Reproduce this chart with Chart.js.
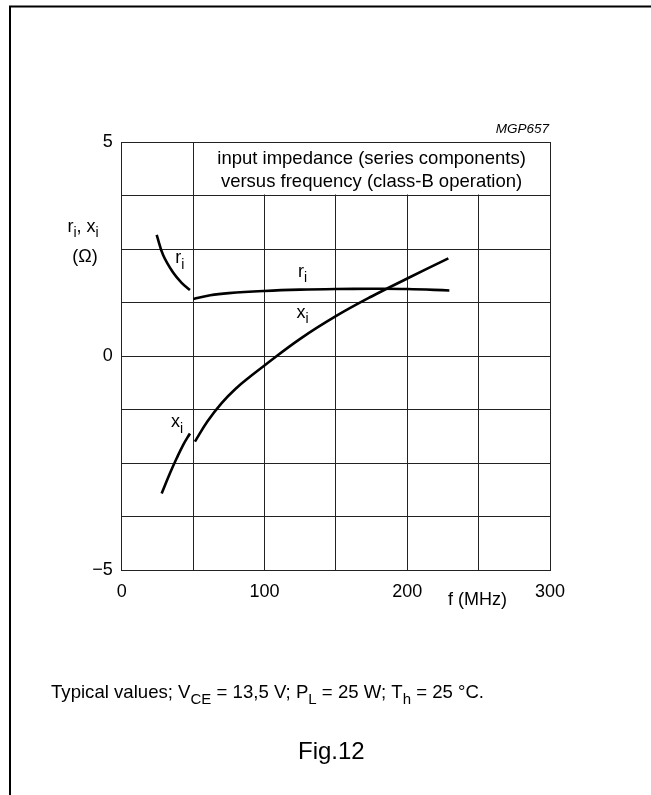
<!DOCTYPE html>
<html>
<head>
<meta charset="utf-8">
<script src="https://cdn.jsdelivr.net/npm/chart.js@4.4.1/dist/chart.umd.min.js"></script>
<style>
  html, body { margin: 0; padding: 0; background: #fff; }
  canvas { display: block; }
</style>
</head>
<body>
<canvas id="impedance" width="651" height="795"></canvas>
<script>
// tick labels and grid steps
const xTickLabels = [0, 100, 200, 300];
const yTickLabels = [-5, 0, 5];
const xGridStep = 50;
const yGridStep = 1.25;

// r_i, low frequency branch
const riLowF = [24.5, 29, 36, 42, 47.8];
const riLowV = [2.83, 2.36, 1.95, 1.71, 1.54];
// r_i, main branch
const riHighF = [50.2, 62, 75, 100, 125, 150, 175, 200, 229.5];
const riHighV = [1.33, 1.42, 1.47, 1.52, 1.55, 1.565, 1.57, 1.565, 1.53];
// x_i, low frequency branch
const xiLowF = [28, 33.8, 38.5, 43, 47.8];
const xiLowV = [-3.21, -2.74, -2.39, -2.08, -1.81];
// x_i, main branch
const xiHighF = [51.3, 60, 70, 80, 90, 100, 125, 150, 175, 200, 228.8];
const xiHighV = [-2.0, -1.53, -1.10, -0.76, -0.48, -0.22, 0.40, 0.93, 1.39, 1.81, 2.28];

const FONT = '"Liberation Sans", Arial, Helvetica, sans-serif';
const INK = '#000';
const GRID = '#222';

function pts(fs, vs) {
    return fs.map((f, i) => ({ x: f, y: vs[i] }));
}

// text with subscripts: parts = [[text, isSub], ...]
function drawRich(ctx, parts, x, y, size, align) {
    const subSize = Math.round(size * 0.8);
    let w = 0;
    parts.forEach(p => {
        ctx.font = (p[1] ? subSize : size) + 'px ' + FONT;
        w += ctx.measureText(p[0]).width;
    });
    let cx = align === 'center' ? x - w / 2 : (align === 'right' ? x - w : x);
    ctx.textAlign = 'left';
    ctx.textBaseline = 'alphabetic';
    parts.forEach(p => {
        ctx.font = (p[1] ? subSize : size) + 'px ' + FONT;
        ctx.fillText(p[0], cx, p[1] ? y + size * 0.3 : y);
        cx += ctx.measureText(p[0]).width;
    });
}

const overlay = {
    id: 'overlay',
    beforeDatasetsDraw(chart) {
        // white box for the title in the top row
        const { ctx, scales: { x, y } } = chart;
        ctx.save();
        ctx.fillStyle = '#fff';
        const l = x.getPixelForValue(50) + 1, r = x.getPixelForValue(300) - 1;
        const t = y.getPixelForValue(5) + 1, b = y.getPixelForValue(5 - yGridStep) - 1;
        ctx.fillRect(l, t, r - l, b - t);
        ctx.restore();
    },
    afterDraw(chart) {
        const { ctx, scales: { x, y } } = chart;
        ctx.save();
        ctx.fillStyle = INK;

        // frame
        ctx.strokeStyle = INK;
        ctx.lineWidth = 2;
        ctx.beginPath();
        ctx.moveTo(10, 795);
        ctx.lineTo(10, 6.5);
        ctx.lineTo(651, 6.5);
        ctx.stroke();

        // title box text
        const cx = (x.getPixelForValue(50) + x.getPixelForValue(300)) / 2;
        ctx.font = '18.5px ' + FONT;
        ctx.textAlign = 'center';
        ctx.textBaseline = 'alphabetic';
        ctx.fillText('input impedance (series components)', cx, 164);
        ctx.fillText('versus frequency (class-B operation)', cx, 187);

        ctx.font = 'italic 13.5px ' + FONT;
        ctx.textAlign = 'right';
        ctx.fillText('MGP657', 549, 133);

        // axis titles
        drawRich(ctx, [['r', 0], ['i', 1], [', x', 0], ['i', 1]], 83, 232, 18, 'center');
        ctx.font = '18px ' + FONT;
        ctx.textAlign = 'center';
        ctx.fillText('(\u03A9)', 85, 262);
        ctx.textAlign = 'left';
        ctx.fillText('f (MHz)', 448, 605);

        // curve labels
        drawRich(ctx, [['r', 0], ['i', 1]], x.getPixelForValue(37.5), y.getPixelForValue(2.17), 18, 'left');
        drawRich(ctx, [['r', 0], ['i', 1]], x.getPixelForValue(123.5), y.getPixelForValue(1.85), 18, 'left');
        drawRich(ctx, [['x', 0], ['i', 1]], x.getPixelForValue(122.5), y.getPixelForValue(0.89), 18, 'left');
        drawRich(ctx, [['x', 0], ['i', 1]], x.getPixelForValue(34.5), y.getPixelForValue(-1.67), 18, 'left');

        // footer
        drawRich(ctx, [
            ['Typical values; V', 0], ['CE', 1], [' = 13,5 V; P', 0], ['L', 1],
            [' = 25 W; T', 0], ['h', 1], [' = 25 \u00B0C.', 0]
        ], 51, 698, 18.6, 'left');
        ctx.font = '24px ' + FONT;
        ctx.textAlign = 'left';
        ctx.fillText('Fig.12', 298, 759);
        ctx.restore();
    }
};

const lineStyle = {
    showLine: true,
    borderColor: INK,
    borderWidth: 2.6,
    pointRadius: 0,
    tension: 0.4,
    fill: false
};

new Chart(document.getElementById('impedance').getContext('2d'), {
    type: 'scatter',
    data: {
        datasets: [
            Object.assign({ label: 'r_i low', data: pts(riLowF, riLowV) }, lineStyle),
            Object.assign({ label: 'r_i', data: pts(riHighF, riHighV) }, lineStyle),
            Object.assign({ label: 'x_i low', data: pts(xiLowF, xiLowV) }, lineStyle),
            Object.assign({ label: 'x_i', data: pts(xiHighF, xiHighV) }, lineStyle)
        ]
    },
    options: {
        responsive: false,
        animation: false,
        layout: { padding: { left: 0, top: 142, right: 101, bottom: 0 } },
        plugins: {
            legend: { display: false },
            tooltip: { enabled: false }
        },
        scales: {
            x: {
                type: 'linear',
                min: 0,
                max: 300,
                afterBuildTicks: axis => {
                    const t = [];
                    for (let v = 0; v <= 300; v += xGridStep) t.push({ value: v });
                    axis.ticks = t;
                },
                afterFit: axis => { axis.height = 225; },
                ticks: {
                    autoSkip: false,
                    maxRotation: 0,
                    padding: 11,
                    color: INK,
                    font: { family: FONT, size: 18 },
                    callback: v => xTickLabels.includes(v) ? String(v) : ''
                },
                grid: { color: GRID, lineWidth: 1, drawTicks: false },
                border: { color: GRID, width: 1 }
            },
            y: {
                type: 'linear',
                min: -5,
                max: 5,
                afterBuildTicks: axis => {
                    const t = [];
                    for (let v = -5; v <= 5.001; v += yGridStep) t.push({ value: Math.round(v * 100) / 100 });
                    axis.ticks = t;
                },
                afterFit: axis => { axis.width = 121.7; },
                ticks: {
                    autoSkip: false,
                    padding: 9,
                    color: INK,
                    font: { family: FONT, size: 18 },
                    callback: v => yTickLabels.includes(v) ? String(v).replace('-', '\u2212') : ''
                },
                grid: { color: GRID, lineWidth: 1, drawTicks: false },
                border: { color: GRID, width: 1 }
            }
        }
    },
    plugins: [overlay]
});
</script>
</body>
</html>
